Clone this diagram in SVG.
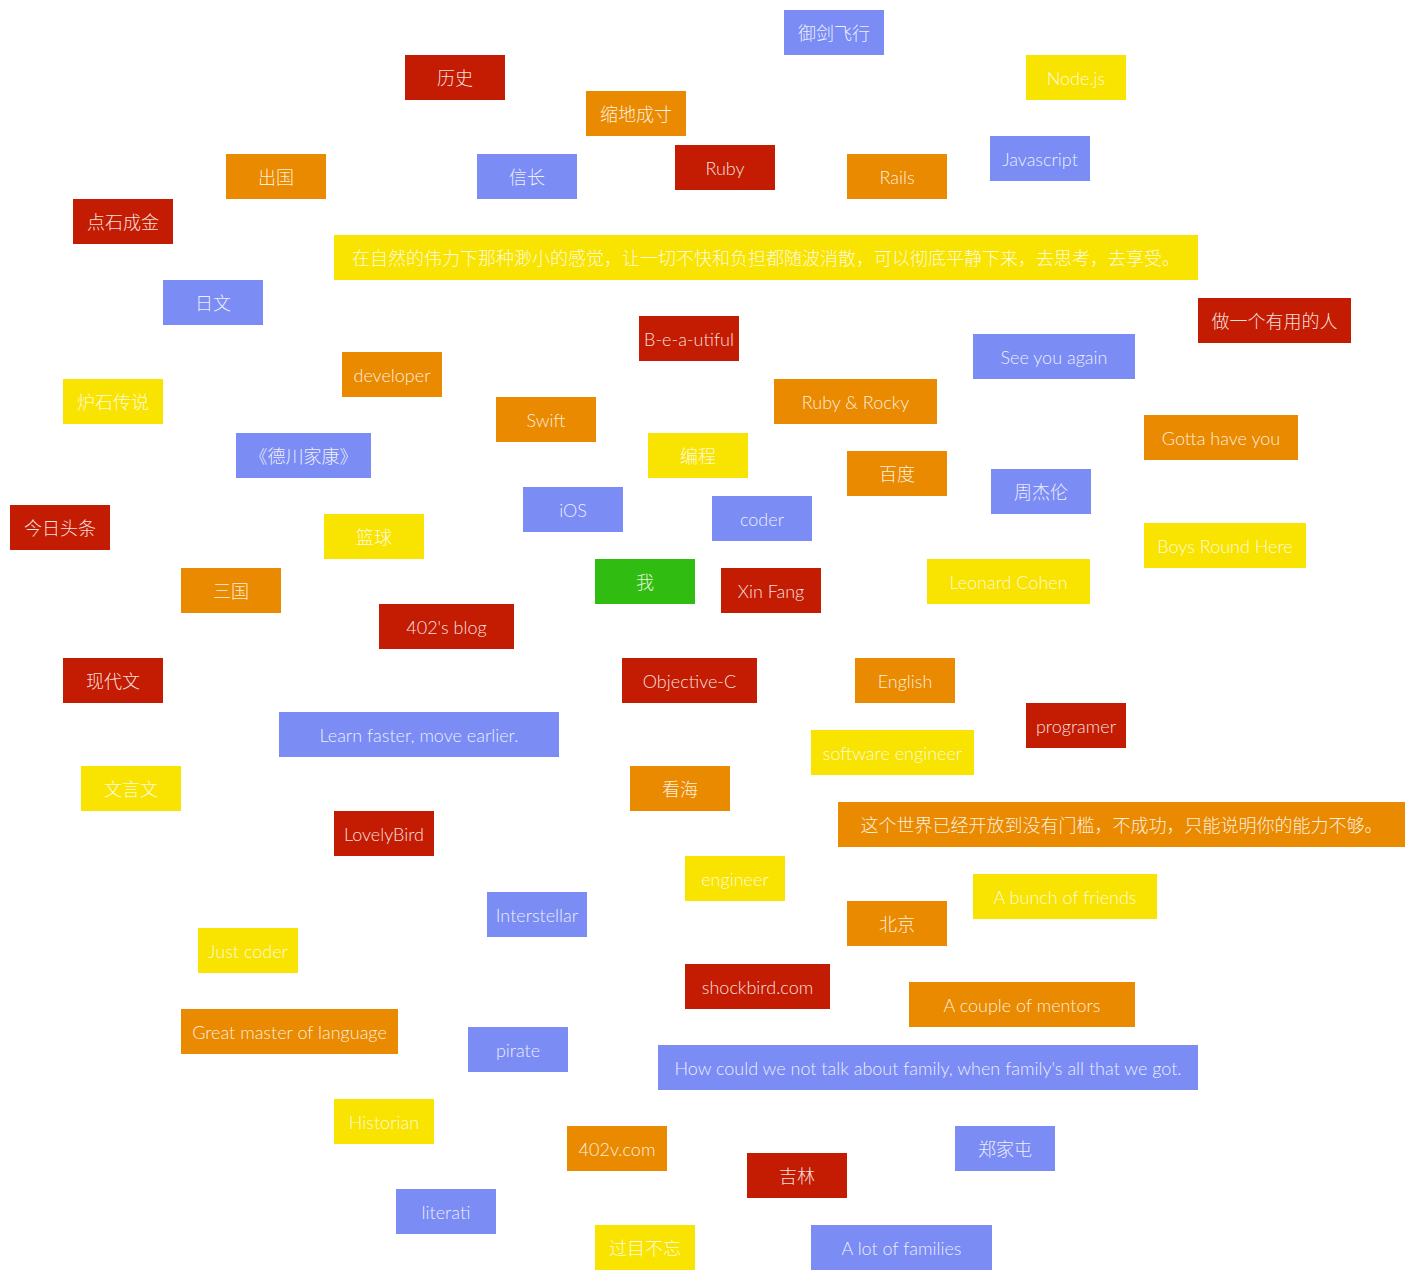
<svg xmlns="http://www.w3.org/2000/svg" width="1415" height="1280" viewBox="0 0 1415 1280">
<style>
.r rect{fill:#c41c02}
.o rect{fill:#ea8a00}
.y rect{fill:#f9e300}
.b rect{fill:#7b8cf5}
.g rect{fill:#30bc10}
text{font-family:Lato,"Noto Sans CJK SC",sans-serif;font-weight:300;font-size:18px;fill:#ffffff;fill-opacity:0.88;text-anchor:middle;dominant-baseline:central}
</style>
<rect width="1415" height="1280" fill="#ffffff"/>
<g id="n1" class="b"><rect x="784" y="10" width="100" height="45"/><text x="834" y="32.5">御剑飞行</text></g>
<g id="n2" class="r"><rect x="405" y="55" width="100" height="45"/><text x="455" y="77.5">历史</text></g>
<g id="n3" class="y"><rect x="1026" y="55" width="100" height="45"/><text x="1076" y="77.5">Node.js</text></g>
<g id="n4" class="o"><rect x="586" y="91" width="100" height="45"/><text x="636" y="113.5">缩地成寸</text></g>
<g id="n5" class="b"><rect x="990" y="136" width="100" height="45"/><text x="1040" y="158.5">Javascript</text></g>
<g id="n6" class="r"><rect x="675" y="145" width="100" height="45"/><text x="725" y="167.5">Ruby</text></g>
<g id="n7" class="o"><rect x="226" y="154" width="100" height="45"/><text x="276" y="176.5">出国</text></g>
<g id="n8" class="b"><rect x="477" y="154" width="100" height="45"/><text x="527" y="176.5">信长</text></g>
<g id="n9" class="o"><rect x="847" y="154" width="100" height="45"/><text x="897" y="176.5">Rails</text></g>
<g id="n10" class="r"><rect x="73" y="199" width="100" height="45"/><text x="123" y="221.5">点石成金</text></g>
<g id="n11" class="y"><rect x="334" y="235" width="864" height="45"/><text x="766" y="257.5">在自然的伟力下那种渺小的感觉，让一切不快和负担都随波消散，可以彻底平静下来，去思考，去享受。</text></g>
<g id="n12" class="b"><rect x="163" y="280" width="100" height="45"/><text x="213" y="302.5">日文</text></g>
<g id="n13" class="r"><rect x="1198" y="298" width="153" height="45"/><text x="1274.5" y="320.5">做一个有用的人</text></g>
<g id="n14" class="r"><rect x="639" y="316" width="100" height="45"/><text x="689" y="338.5">B-e-a-utiful</text></g>
<g id="n15" class="b"><rect x="973" y="334" width="162" height="45"/><text x="1054" y="356.5">See you again</text></g>
<g id="n16" class="o"><rect x="342" y="352" width="100" height="45"/><text x="392" y="374.5">developer</text></g>
<g id="n17" class="y"><rect x="63" y="379" width="100" height="45"/><text x="113" y="401.5">炉石传说</text></g>
<g id="n18" class="o"><rect x="774" y="379" width="163" height="45"/><text x="855.5" y="401.5">Ruby &amp; Rocky</text></g>
<g id="n19" class="o"><rect x="496" y="397" width="100" height="45"/><text x="546" y="419.5">Swift</text></g>
<g id="n20" class="o"><rect x="1144" y="415" width="154" height="45"/><text x="1221" y="437.5">Gotta have you</text></g>
<g id="n21" class="b"><rect x="236" y="433" width="135" height="45"/><text x="303.5" y="455.5">《德川家康》</text></g>
<g id="n22" class="y"><rect x="648" y="433" width="100" height="45"/><text x="698" y="455.5">编程</text></g>
<g id="n23" class="o"><rect x="847" y="451" width="100" height="45"/><text x="897" y="473.5">百度</text></g>
<g id="n24" class="b"><rect x="991" y="469" width="100" height="45"/><text x="1041" y="491.5">周杰伦</text></g>
<g id="n25" class="b"><rect x="523" y="487" width="100" height="45"/><text x="573" y="509.5">iOS</text></g>
<g id="n26" class="b"><rect x="712" y="496" width="100" height="45"/><text x="762" y="518.5">coder</text></g>
<g id="n27" class="r"><rect x="10" y="505" width="100" height="45"/><text x="60" y="527.5">今日头条</text></g>
<g id="n28" class="y"><rect x="324" y="514" width="100" height="45"/><text x="374" y="536.5">篮球</text></g>
<g id="n29" class="y"><rect x="1144" y="523" width="162" height="45"/><text x="1225" y="545.5">Boys Round Here</text></g>
<g id="n30" class="g"><rect x="595" y="559" width="100" height="45"/><text x="645" y="581.5">我</text></g>
<g id="n31" class="y"><rect x="927" y="559" width="163" height="45"/><text x="1008.5" y="581.5">Leonard Cohen</text></g>
<g id="n32" class="o"><rect x="181" y="568" width="100" height="45"/><text x="231" y="590.5">三国</text></g>
<g id="n33" class="r"><rect x="721" y="568" width="100" height="45"/><text x="771" y="590.5">Xin Fang</text></g>
<g id="n34" class="r"><rect x="379" y="604" width="135" height="45"/><text x="446.5" y="626.5">402's blog</text></g>
<g id="n35" class="r"><rect x="63" y="658" width="100" height="45"/><text x="113" y="680.5">现代文</text></g>
<g id="n36" class="r"><rect x="622" y="658" width="135" height="45"/><text x="689.5" y="680.5">Objective-C</text></g>
<g id="n37" class="o"><rect x="855" y="658" width="100" height="45"/><text x="905" y="680.5">English</text></g>
<g id="n38" class="r"><rect x="1026" y="703" width="100" height="45"/><text x="1076" y="725.5">programer</text></g>
<g id="n39" class="b"><rect x="279" y="712" width="280" height="45"/><text x="419" y="734.5">Learn faster, move earlier.</text></g>
<g id="n40" class="y"><rect x="811" y="730" width="163" height="45"/><text x="892.5" y="752.5">software engineer</text></g>
<g id="n41" class="y"><rect x="81" y="766" width="100" height="45"/><text x="131" y="788.5">文言文</text></g>
<g id="n42" class="o"><rect x="630" y="766" width="100" height="45"/><text x="680" y="788.5">看海</text></g>
<g id="n43" class="o"><rect x="838" y="802" width="567" height="45"/><text x="1121.5" y="824.5">这个世界已经开放到没有门槛，不成功，只能说明你的能力不够。</text></g>
<g id="n44" class="r"><rect x="334" y="811" width="100" height="45"/><text x="384" y="833.5">LovelyBird</text></g>
<g id="n45" class="y"><rect x="685" y="856" width="100" height="45"/><text x="735" y="878.5">engineer</text></g>
<g id="n46" class="y"><rect x="973" y="874" width="184" height="45"/><text x="1065" y="896.5">A bunch of friends</text></g>
<g id="n47" class="b"><rect x="487" y="892" width="100" height="45"/><text x="537" y="914.5">Interstellar</text></g>
<g id="n48" class="o"><rect x="847" y="901" width="100" height="45"/><text x="897" y="923.5">北京</text></g>
<g id="n49" class="y"><rect x="198" y="928" width="100" height="45"/><text x="248" y="950.5">Just coder</text></g>
<g id="n50" class="r"><rect x="685" y="964" width="145" height="45"/><text x="757.5" y="986.5">shockbird.com</text></g>
<g id="n51" class="o"><rect x="909" y="982" width="226" height="45"/><text x="1022" y="1004.5">A couple of mentors</text></g>
<g id="n52" class="o"><rect x="181" y="1009" width="217" height="45"/><text x="289.5" y="1031.5">Great master of language</text></g>
<g id="n53" class="b"><rect x="468" y="1027" width="100" height="45"/><text x="518" y="1049.5">pirate</text></g>
<g id="n54" class="b"><rect x="658" y="1045" width="540" height="45"/><text x="928" y="1067.5">How could we not talk about family, when family's all that we got.</text></g>
<g id="n55" class="y"><rect x="334" y="1099" width="100" height="45"/><text x="384" y="1121.5">Historian</text></g>
<g id="n56" class="o"><rect x="567" y="1126" width="100" height="45"/><text x="617" y="1148.5">402v.com</text></g>
<g id="n57" class="b"><rect x="955" y="1126" width="100" height="45"/><text x="1005" y="1148.5">郑家屯</text></g>
<g id="n58" class="r"><rect x="747" y="1153" width="100" height="45"/><text x="797" y="1175.5">吉林</text></g>
<g id="n59" class="b"><rect x="396" y="1189" width="100" height="45"/><text x="446" y="1211.5">literati</text></g>
<g id="n60" class="y"><rect x="595" y="1225" width="100" height="45"/><text x="645" y="1247.5">过目不忘</text></g>
<g id="n61" class="b"><rect x="811" y="1225" width="181" height="45"/><text x="901.5" y="1247.5">A lot of families</text></g>
</svg>
